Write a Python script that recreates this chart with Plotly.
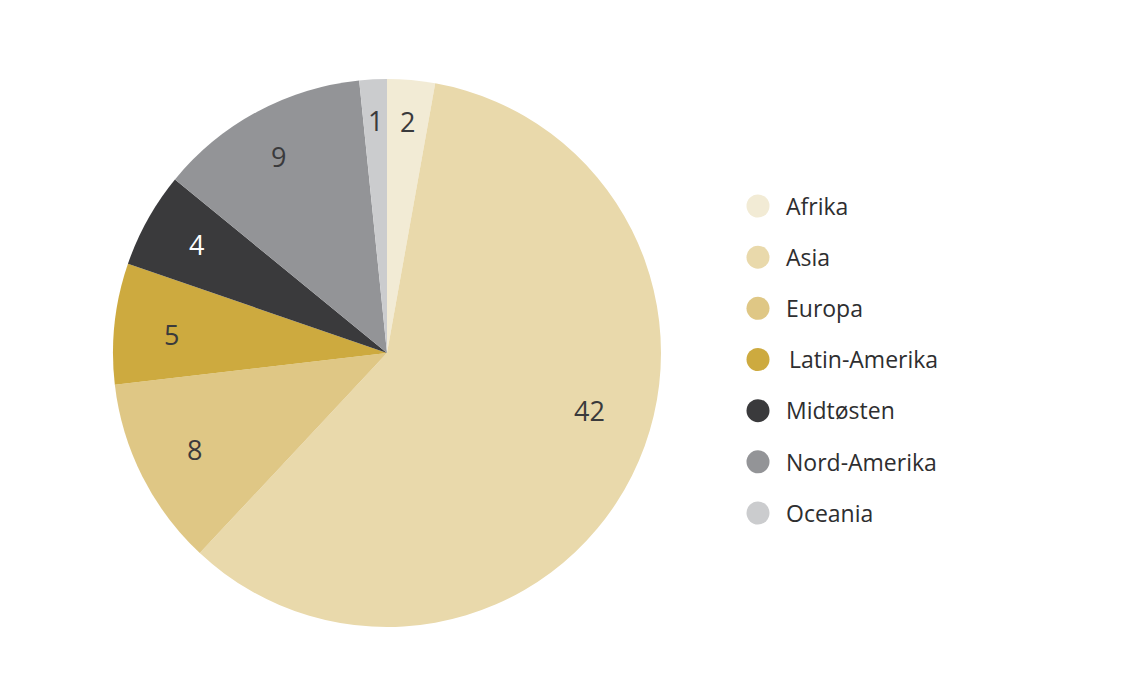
import math

import plotly.graph_objects as go

regions = ["Afrika", "Asia", "Europa", "Latin-Amerika", "Midtøsten", "Nord-Amerika", "Oceania"]
# slice sizes, the printed numbers are these rounded
values = [2, 42, 7.94, 5.06, 4, 8.85, 1.15]
colors = ["#f2ebd5", "#e9d9ab", "#dfc785", "#cdaa3f", "#3a3a3c", "#939497", "#cbccce"]
label_colors = ["#3a3a3c", "#3a3a3c", "#3a3a3c", "#3a3a3c", "#ffffff", "#3a3a3c", "#3a3a3c"]
# how far out each number sits (share of radius) and a nudge off the slice middle (degrees)
label_radius = [0.85, 0.77, 0.785, 0.79, 0.80, 0.82, 0.85]
label_nudge = [0, -10.7, 0, -1.3, 0.5, -0.6, 0]
key_rows = list(range(len(regions)))
key_text_indent = [0, 0, 0, 3, 0, 0, 0]  # Latin-Amerika sits a little to the right

W, H = 1127, 694
PAGE_OFFSET = 8  # the browser's body margin moves everything by this much
cx, cy, r = 387 - PAGE_OFFSET, 353 - PAGE_OFFSET, 274
key_x = 758 - PAGE_OFFSET
key_text_x = 786 - PAGE_OFFSET
row_height = (513 - 206) / 6
key_top = 206 - PAGE_OFFSET - row_height / 2
key_bottom = 513 - PAGE_OFFSET + row_height / 2

fig = go.Figure()
fig.add_trace(
    go.Pie(
        labels=regions,
        values=values,
        sort=False,
        direction="clockwise",
        rotation=0,
        marker=dict(colors=colors, line=dict(width=0)),
        textinfo="none",
        domain=dict(x=[(cx - r) / W, (cx + r) / W], y=[1 - (cy + r) / H, 1 - (cy - r) / H]),
        showlegend=False,
    )
)

# key drawn by hand: plotly caps legend markers below this size
fig.add_trace(
    go.Scatter(
        x=[key_x] * len(regions),
        y=key_rows,
        mode="markers",
        marker=dict(color=colors, size=23),
        cliponaxis=False,
        hoverinfo="skip",
        showlegend=False,
    )
)
fig.add_trace(
    go.Scatter(
        x=[key_text_x + indent for indent in key_text_indent],
        y=[row + 0.06 for row in key_rows],  # text sits a bit high otherwise
        mode="text",
        text=regions,
        textposition="middle right",
        textfont=dict(size=23, color="#2e2e30", family="Open Sans"),
        cliponaxis=False,
        hoverinfo="skip",
        showlegend=False,
    )
)

total = sum(values)
start = 0
for value, color, radius, nudge in zip(values, label_colors, label_radius, label_nudge):
    angle = math.radians((start + value / 2) / total * 360 + nudge)
    start += value
    fig.add_annotation(
        x=(cx + radius * r * math.sin(angle)) / W,
        y=1 - (cy - radius * r * math.cos(angle)) / H,
        xref="paper",
        yref="paper",
        xanchor="center",
        yanchor="middle",
        text=str(round(value)),
        showarrow=False,
        font=dict(size=27, color=color, family="Open Sans"),
    )

fig.update_layout(
    width=W,
    height=H,
    margin=dict(l=0, r=0, t=0, b=0),
    paper_bgcolor="white",
    plot_bgcolor="rgba(0,0,0,0)",
    font=dict(family="Open Sans", color="#2e2e30", size=23),
    xaxis=dict(visible=False, range=[0, W], domain=[0, 1]),
    yaxis=dict(
        visible=False,
        range=[6.5, -0.5],
        domain=[1 - key_bottom / H, 1 - key_top / H],
    ),
)
fig.write_html("out.html")
